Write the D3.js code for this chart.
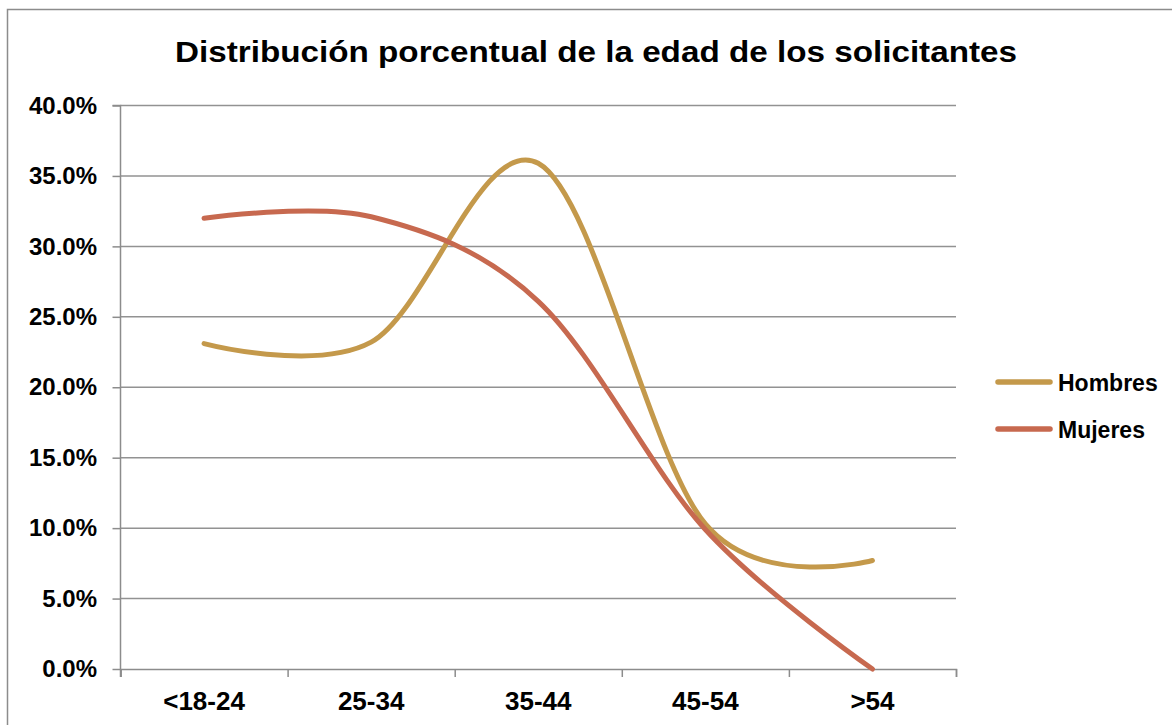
<!DOCTYPE html>
<html>
<head>
<meta charset="utf-8">
<script src="https://cdn.jsdelivr.net/npm/d3@7"></script>
<style>
  body { margin: 0; background: #fff; }
  text { font-family: "Liberation Sans", Arial, sans-serif; font-weight: bold; fill: #000; }
</style>
</head>
<body>
<div id="chart"></div>
<script>
// data
const categories = ["<18-24", "25-34", "35-44", "45-54", ">54"];
const hombres = [23.1, 23.2, 35.9, 10.3, 7.7];
const mujeres = [32.0, 32.1, 26.1, 9.9, 0.0];
const yTicks = [0, 5, 10, 15, 20, 25, 30, 35, 40];
const seriesNames = ["Hombres", "Mujeres"];
const colors = ["#c4994b", "#c7694f"];

const W = 1172, H = 725;
const plot = { left: 120.5, right: 956, top: 105.5, bottom: 669 };

const svg = d3.select("#chart")
    .append("svg")
    .attr("width", W)
    .attr("height", H);

// outer chart border (only top/left visible)
svg.append("rect")
    .attr("x", 7.5).attr("y", 9.5)
    .attr("width", W).attr("height", H)
    .attr("fill", "none")
    .attr("stroke", "#8c8c8c")
    .attr("stroke-width", 1.5);

// title
svg.append("text")
    .attr("x", 596)
    .attr("y", 62)
    .attr("text-anchor", "middle")
    .attr("textLength", 842)
    .attr("lengthAdjust", "spacingAndGlyphs")
    .style("font-size", "30px")
    .text("Distribución porcentual de la edad de los solicitantes");

// scales
const x = d3.scaleBand()
    .domain(categories)
    .range([plot.left, plot.right]);
const xEdge = d3.scaleLinear()
    .domain([0, categories.length])
    .range([plot.left, plot.right]);
const y = d3.scaleLinear()
    .domain([0, 40])
    .range([plot.bottom, plot.top]);

// gridlines
svg.append("g")
    .selectAll("line")
    .data(yTicks.filter(d => d > 0))
    .join("line")
    .attr("x1", plot.left)
    .attr("x2", plot.right)
    .attr("y1", d => y(d))
    .attr("y2", d => y(d))
    .attr("stroke", "#929292")
    .attr("stroke-width", 1.5);

// Y axis
const yAxis = svg.append("g")
    .attr("transform", `translate(${plot.left}, 0)`)
    .call(d3.axisLeft(y)
        .tickValues(yTicks)
        .tickFormat(d => d.toFixed(1) + "%")
        .tickSize(8)
        .tickPadding(15.5));
yAxis.select(".domain").attr("stroke", "#8c8c8c").attr("stroke-width", 1.5)
    .attr("d", `M-8,${plot.top}H0V${plot.bottom + 8}`);
yAxis.selectAll(".tick line").attr("stroke", "#8c8c8c").attr("stroke-width", 1.5);
yAxis.selectAll("text")
    .style("font-size", "24px")
    .style("font-family", "'Liberation Sans', Arial, sans-serif")
    .style("font-weight", "bold")
    .attr("fill", "#000");

// X axis: boundary ticks
const xTickAxis = svg.append("g")
    .attr("transform", `translate(0, ${plot.bottom})`)
    .call(d3.axisBottom(xEdge)
        .ticks(categories.length)
        .tickFormat("")
        .tickSize(8)
        .tickSizeOuter(8));
xTickAxis.select(".domain").attr("stroke", "#8c8c8c").attr("stroke-width", 1.5);
xTickAxis.selectAll(".tick line").attr("stroke", "#8c8c8c").attr("stroke-width", 1.5);

// X axis: category labels
const xLabelAxis = svg.append("g")
    .attr("transform", `translate(0, ${plot.bottom})`)
    .call(d3.axisBottom(x).tickSize(0).tickPadding(22.5));
xLabelAxis.select(".domain").remove();
xLabelAxis.selectAll("text")
    .style("font-size", "26px")
    .style("font-family", "'Liberation Sans', Arial, sans-serif")
    .style("font-weight", "bold")
    .attr("fill", "#000");

// lines
const line = d3.line()
    .x((d, i) => x(categories[i]) + x.bandwidth() / 2)
    .y(d => y(d))
    .curve(d3.curveCardinal.tension(0));

[hombres, mujeres].forEach((vals, i) => {
    svg.append("path")
        .datum(vals)
        .attr("fill", "none")
        .attr("stroke", colors[i])
        .attr("stroke-width", 5)
        .attr("stroke-linecap", "round")
        .attr("stroke-linejoin", "round")
        .attr("d", line);
});

// legend
const legendY = [382, 429];
const legend = svg.append("g");
seriesNames.forEach((name, i) => {
    legend.append("line")
        .attr("x1", 998).attr("x2", 1050)
        .attr("y1", legendY[i]).attr("y2", legendY[i])
        .attr("stroke", colors[i])
        .attr("stroke-width", 5.5)
        .attr("stroke-linecap", "round");
    legend.append("text")
        .attr("x", 1058)
        .attr("y", legendY[i] + 8.5)
        .style("font-size", "23px")
        .text(name);
});
</script>
</body>
</html>
